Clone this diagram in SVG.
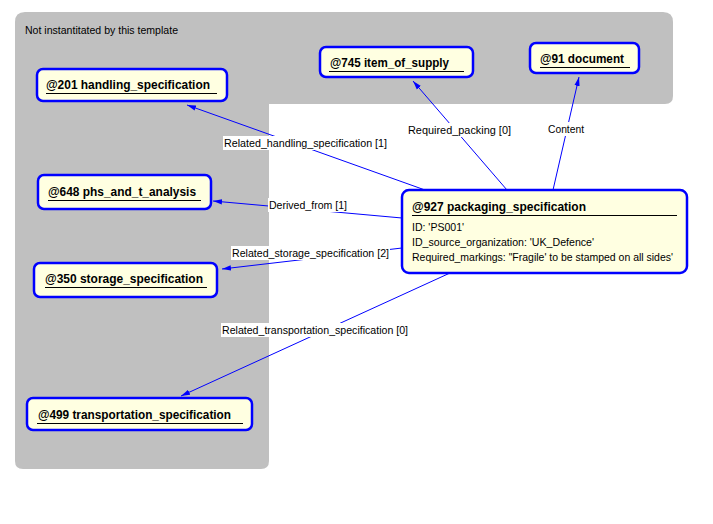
<svg xmlns="http://www.w3.org/2000/svg" width="713" height="524" viewBox="0 0 713 524">
<style>
.bg{fill:#C0C0C0}
.node{fill:#FFFFE1;stroke:#0000FF;stroke-width:2.5}
.title{font-family:"Liberation Sans",Arial,sans-serif;font-size:12px;font-weight:bold;fill:#000}
.attr{font-family:"Liberation Sans",Arial,sans-serif;font-size:11px;fill:#000}
.ul{stroke:#000;stroke-width:1}
.edge{stroke:#0000FF;stroke-width:1;fill:none;marker-end:url(#arr)}
.lbl{font-family:"Liberation Sans",Arial,sans-serif;font-size:11px;fill:#000}
.lblbg{fill:#FFFFFF}
.note{font-family:"Liberation Sans",Arial,sans-serif;font-size:11px;fill:#000}
</style>
<defs>
<marker id="arr" viewBox="0 0 10 6" refX="10" refY="3" markerWidth="9" markerHeight="6" markerUnits="userSpaceOnUse" orient="auto">
<path d="M0,0 L10,3 L0,6 Z" fill="#0000FF"/>
</marker>
</defs>
<rect width="713" height="524" fill="#FFFFFF"/>
<g id="region">
<path class="bg" d="M25,12 H663 Q673,12 673,22 V96 Q673,104 665,104 H269 V461 Q269,469 261,469 H23 Q15,469 15,461 V22 Q15,12 25,12 Z"/>
<text class="note" x="25" y="34" textLength="153" lengthAdjust="spacingAndGlyphs">Not instantitated by this template</text>
</g>
<g id="connectors">
<line class="edge" x1="425" y1="190" x2="187" y2="105"/>
<line class="edge" x1="507" y1="190" x2="413" y2="81"/>
<line class="edge" x1="553" y1="190" x2="579" y2="77"/>
<line class="edge" x1="402" y1="218" x2="213" y2="201"/>
<line class="edge" x1="402" y1="248" x2="222" y2="269"/>
<line class="edge" x1="450" y1="273" x2="181" y2="396"/>
<rect class="lblbg" x="223" y="136" width="165" height="14"/>
<text class="lbl" x="224" y="147" textLength="163" lengthAdjust="spacingAndGlyphs">Related_handling_specification [1]</text>
<rect class="lblbg" x="407" y="123" width="105" height="14"/>
<text class="lbl" x="408" y="134" textLength="103" lengthAdjust="spacingAndGlyphs">Required_packing [0]</text>
<rect class="lblbg" x="547" y="122" width="38" height="14"/>
<text class="lbl" x="548" y="133" textLength="36" lengthAdjust="spacingAndGlyphs">Content</text>
<rect class="lblbg" x="268" y="198" width="80" height="14"/>
<text class="lbl" x="269" y="209" textLength="78" lengthAdjust="spacingAndGlyphs">Derived_from [1]</text>
<rect class="lblbg" x="231" y="246" width="159" height="14"/>
<text class="lbl" x="232" y="257" textLength="157" lengthAdjust="spacingAndGlyphs">Related_storage_specification [2]</text>
<rect class="lblbg" x="221" y="323" width="188" height="14"/>
<text class="lbl" x="222" y="334" textLength="186" lengthAdjust="spacingAndGlyphs">Related_transportation_specification [0]</text>
</g>
<g id="n201">
<rect class="node" x="37" y="69" width="190" height="32" rx="6"/>
<text class="title" x="46" y="89" textLength="164" lengthAdjust="spacingAndGlyphs">@201 handling_specification</text>
<line class="ul" x1="46" y1="93.5" x2="217" y2="93.5"/>
</g>
<g id="n745">
<rect class="node" x="320" y="47" width="153" height="30" rx="6"/>
<text class="title" x="330" y="67" textLength="119" lengthAdjust="spacingAndGlyphs">@745 item_of_supply</text>
<line class="ul" x1="329" y1="71.5" x2="464" y2="71.5"/>
</g>
<g id="n91">
<rect class="node" x="530" y="43" width="109" height="30" rx="6"/>
<text class="title" x="540" y="63" textLength="84" lengthAdjust="spacingAndGlyphs">@91 document</text>
<line class="ul" x1="540" y1="67.5" x2="630" y2="67.5"/>
</g>
<g id="n648">
<rect class="node" x="38" y="175" width="173" height="34" rx="6"/>
<text class="title" x="48" y="196" textLength="148" lengthAdjust="spacingAndGlyphs">@648 phs_and_t_analysis</text>
<line class="ul" x1="48" y1="200.5" x2="201" y2="200.5"/>
</g>
<g id="n350">
<rect class="node" x="34" y="263" width="183" height="34" rx="6"/>
<text class="title" x="45" y="283" textLength="158" lengthAdjust="spacingAndGlyphs">@350 storage_specification</text>
<line class="ul" x1="45" y1="287.5" x2="207" y2="287.5"/>
</g>
<g id="n499">
<rect class="node" x="27" y="398" width="225" height="32" rx="6"/>
<text class="title" x="38" y="419" textLength="193" lengthAdjust="spacingAndGlyphs">@499 transportation_specification</text>
<line class="ul" x1="37" y1="423.5" x2="243" y2="423.5"/>
</g>
<g id="n927">
<rect class="node" x="402" y="190" width="285" height="83" rx="7"/>
<text class="title" x="412" y="211" textLength="174" lengthAdjust="spacingAndGlyphs">@927 packaging_specification</text>
<line class="ul" x1="412" y1="215.5" x2="677" y2="215.5"/>
<text class="attr" x="412" y="231" textLength="52" lengthAdjust="spacingAndGlyphs">ID: 'PS001'</text>
<text class="attr" x="412" y="246" textLength="182" lengthAdjust="spacingAndGlyphs">ID_source_organization: 'UK_Defence'</text>
<text class="attr" x="412" y="261" textLength="261" lengthAdjust="spacingAndGlyphs">Required_markings: "Fragile' to be stamped on all sides'</text>
</g>
</svg>
